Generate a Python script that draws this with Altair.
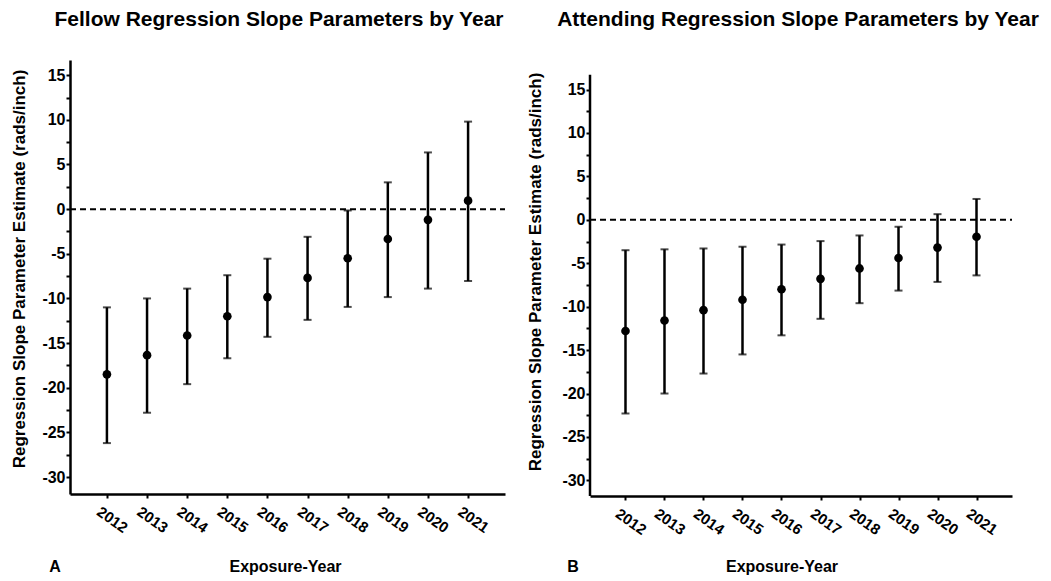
import altair as alt
import pandas as pd

years = ["2012", "2013", "2014", "2015", "2016", "2017", "2018", "2019", "2020", "2021"]

fellow_est = [-18.5, -16.35, -14.15, -12.0, -9.85, -7.7, -5.5, -3.35, -1.2, 0.95]
fellow_lo = [-26.2, -22.8, -19.6, -16.7, -14.3, -12.4, -10.95, -9.85, -8.9, -8.05]
fellow_hi = [-11.0, -10.0, -8.9, -7.4, -5.55, -3.1, -0.15, 3.0, 6.35, 9.8]

attending_est = [-12.8, -11.6, -10.4, -9.2, -8.0, -6.8, -5.6, -4.4, -3.2, -1.95]
attending_lo = [-22.3, -20.0, -17.7, -15.5, -13.3, -11.4, -9.6, -8.15, -7.15, -6.4]
attending_hi = [-3.5, -3.4, -3.3, -3.1, -2.85, -2.45, -1.8, -0.8, 0.65, 2.4]

y_ticks = [-30, -27.5, -25, -22.5, -20, -17.5, -15, -12.5, -10, -7.5, -5, -2.5,
           0, 2.5, 5, 7.5, 10, 12.5, 15]

title_left = "Fellow Regression Slope Parameters by Year"
title_right = "Attending Regression Slope Parameters by Year"
y_title = "Regression Slope Parameter Estimate (rads/inch)"
x_title = "Exposure-Year"

FONT = "Liberation Sans"


def text_layer(txt, x, y, size, angle=0):
    return alt.Chart(pd.DataFrame({"t": [txt]})).mark_text(
        font=FONT, fontSize=size, fontWeight="bold", color="black",
        align="center", baseline="middle", angle=angle
    ).encode(text="t:N", x=alt.value(x), y=alt.value(y))


def panel(est, lo, hi, width, height, ydom, pad, title, letter,
          title_x, ytitle_x, ytitle_y, xtitle_x, letter_x, axis_top=None):
    df = pd.DataFrame({"year": years, "est": est, "lo": lo, "hi": hi})
    xs = alt.Scale(type="point", padding=pad)
    ys = alt.Scale(domain=ydom, nice=False, zero=False)
    yaxis = alt.Axis(
        values=y_ticks, labelExpr="datum.value % 5 === 0 ? '' + datum.value : ''",
        grid=False, title=None, domain=axis_top is None, domainColor="black",
        domainWidth=2.5, tickColor="black", tickWidth=2, tickSize=4,
        labelFont=FONT, labelFontSize=16, labelFontWeight="bold",
        labelColor="black", labelPadding=1,
    )
    xaxis = alt.Axis(
        grid=False, title=None, domainColor="black", domainWidth=2.5,
        tickColor="black", tickWidth=2, tickSize=4, labelAngle=35,
        labelAlign="left", labelBaseline="top", labelPadding=6,
        labelOffset=-4.7, labelFont=FONT, labelFontSize=15,
        labelFontWeight="bold", labelColor="black",
    )
    x = alt.X("year:O", scale=xs, axis=xaxis, sort=years)
    base = alt.Chart(df)
    bars = base.mark_rule(color="black", strokeWidth=2.5).encode(
        x=x, y=alt.Y("lo:Q", scale=ys, axis=yaxis), y2="hi:Q")
    cap_lo = base.mark_tick(color="black", thickness=2, size=8).encode(
        x=x, y=alt.Y("lo:Q", scale=ys, axis=yaxis))
    cap_hi = base.mark_tick(color="black", thickness=2, size=8).encode(
        x=x, y=alt.Y("hi:Q", scale=ys, axis=yaxis))
    pts = base.mark_circle(color="black", size=75, opacity=1).encode(
        x=x, y=alt.Y("est:Q", scale=ys, axis=yaxis))
    zero = alt.Chart(pd.DataFrame({"v": [0]})).mark_rule(
        color="black", strokeWidth=2, strokeDash=[6, 4]
    ).encode(y=alt.Y("v:Q", scale=ys, axis=yaxis), x=alt.value(0), x2=alt.value(width))
    layers = [zero, bars, cap_lo, cap_hi, pts]
    if axis_top is not None:
        yline = alt.Chart(pd.DataFrame({"a": [axis_top], "b": [ydom[0]]})).mark_rule(
            color="black", strokeWidth=2.5
        ).encode(x=alt.value(0), y=alt.Y("a:Q", scale=ys, axis=yaxis), y2="b:Q")
        layers.append(yline)
    layers += [
        text_layer(title, title_x, -40, 21),
        text_layer(y_title, ytitle_x, ytitle_y, 17, angle=270),
        text_layer(x_title, xtitle_x, 507, 16),
        text_layer(letter, letter_x, 507, 16),
    ]
    return alt.layer(*layers).properties(width=width, height=height)


left = panel(fellow_est, fellow_lo, fellow_hi, 435, 434, [-31.9, 16.7], 0.92,
             title_left, "A", 209, -50.5, 209, 215.5, -15)
right = panel(attending_est, attending_lo, attending_hi, 422, 436, [-31.8, 18.4], 0.91,
              title_right, "B", 208, -54, 212, 192, -17, axis_top=16.7)

chart = alt.hconcat(left, right, spacing=19).properties(
    padding={"left": 1, "top": 0, "right": 0, "bottom": 0}
).configure(font=FONT, view=alt.ViewConfig(stroke="transparent"))

chart.save("out.html", embed_options={"renderer": "svg", "actions": False})
